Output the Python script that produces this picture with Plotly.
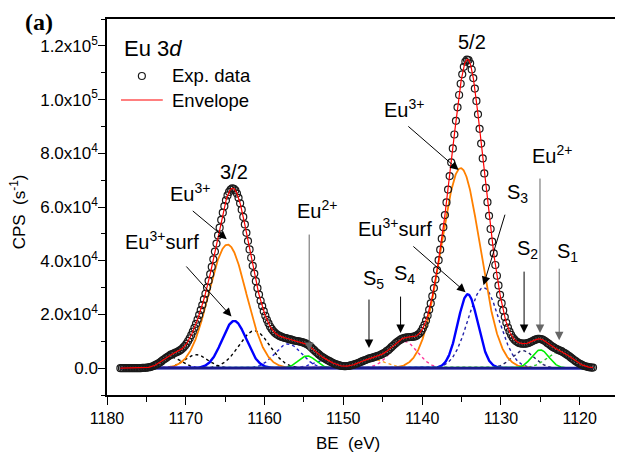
import numpy as np
import plotly.graph_objects as go

# ---------------- data ----------------
# experimental points: BE from 1178.3 eV down to 1118.3 eV in 0.2 eV steps
be_first, be_step, n_points = 1178.3, 0.2, 301
exp_cps = [
    0, 0, 0, 0, 0, 0, 0, 0, 0, 0,
    0, 0, 0, 0, 100, 100, 100, 200, 300, 400,
    600, 800, 1100, 1400, 1700, 2100, 2500, 3000, 3400, 3800,
    4200, 4600, 5000, 5200, 5500, 5800, 6000, 6300, 6700, 7100,
    7700, 8300, 9100, 10100, 11100, 12300, 13600, 15000, 16500, 18100,
    19800, 21600, 23500, 25600, 27700, 30000, 32500, 35000, 37700, 40500,
    43400, 46400, 49400, 52300, 55200, 57900, 60300, 62500, 64300, 65600,
    66500, 66900, 66800, 66200, 65000, 63400, 61400, 59000, 56300, 53500,
    50400, 47300, 44200, 41100, 38100, 35200, 32400, 29800, 27400, 25100,
    23100, 21200, 19500, 18000, 16700, 15500, 14600, 13800, 13200, 12700,
    12300, 12000, 11700, 11500, 11300, 11200, 11000, 10800, 10700, 10500,
    10300, 10200, 10100, 10000, 9900, 9700, 9600, 9300, 9100, 8700,
    8300, 7800, 7200, 6700, 6100, 5600, 5100, 4600, 4200, 3800,
    3500, 3100, 2800, 2500, 2200, 1900, 1600, 1400, 1200, 1000,
    900, 800, 700, 700, 800, 800, 1000, 1100, 1300, 1500,
    1700, 1900, 2200, 2400, 2700, 2900, 3100, 3400, 3600, 3700,
    3900, 4100, 4300, 4500, 4700, 4900, 5200, 5500, 5800, 6300,
    6700, 7200, 7800, 8300, 8900, 9400, 9900, 10300, 10700, 11000,
    11200, 11400, 11500, 11500, 11600, 11600, 11700, 11800, 12100, 12500,
    13000, 13800, 14900, 16100, 17700, 19600, 21700, 24100, 26800, 29800,
    33000, 36500, 40200, 44100, 48200, 52500, 57000, 61700, 66500, 71500,
    76600, 81800, 87000, 92100, 97100, 101700, 105900, 109400, 112200, 114100,
    114900, 114700, 113500, 111200, 108000, 104100, 99500, 94500, 89100, 83600,
    78100, 72500, 67100, 61800, 56700, 51800, 47100, 42700, 38400, 34400,
    30800, 27300, 24200, 21500, 19000, 16900, 15100, 13600, 12400, 11400,
    10700, 10100, 9700, 9400, 9200, 9100, 9100, 9100, 9200, 9400,
    9600, 9900, 10200, 10500, 10700, 10900, 10900, 10800, 10600, 10300,
    9900, 9400, 9000, 8500, 8100, 7700, 7400, 7100, 6800, 6500,
    6300, 5900, 5600, 5200, 4800, 4400, 3900, 3500, 3000, 2600,
    2200, 1800, 1500, 1200, 900, 700, 600, 400, 300, 200,
    200,
]

# fitted components: centre BE (eV), height (CPS), FWHM (eV)
comp_names  = ["sat32_a", "sat32_b", "Eu3_32", "Eu3s_32", "S3_32", "S2_32", "Eu2_32", "S1_32",
               "S5", "S4", "Eu3_52", "Eu3s_52", "S3", "S2", "Eu2_52", "S1"]
comp_center = [1171.8, 1168.7, 1164.7, 1163.85, 1161.3, 1157.0, 1154.6, 1152.6,
               1146.3, 1142.3, 1135.1, 1134.2, 1132.2, 1127.2, 1125.0, 1122.6]
comp_height = [4000, 5000, 46000, 17600, 13900, 9000, 4570, 2800,
               3300, 10000, 74500, 27500, 30000, 6500, 6800, 6000]
comp_fwhm   = [3.0, 3.5, 5.6, 3.6, 4.6, 4.0, 2.6, 3.2,
               4.0, 4.0, 5.8, 3.0, 4.6, 3.4, 2.6, 3.8]

y_ticks = [0, 20000, 40000, 60000, 80000, 100000, 120000]
y_ticktext = ["0.0", "2.0x10<sup>4</sup>", "4.0x10<sup>4</sup>", "6.0x10<sup>4</sup>",
              "8.0x10<sup>4</sup>", "1.0x10<sup>5</sup>", "1.2x10<sup>5</sup>"]

# ---------------- styles ----------------
NAVY = "#1a1a8c"
style = {
    "sat32_a": dict(color="black", dash="dot", width=1.4),
    "sat32_b": dict(color="black", dash="dot", width=1.4),
    "Eu3_32": dict(color="#ff8000", dash="solid", width=1.8),
    "Eu3s_32": dict(color="#0000ff", dash="solid", width=2.4),
    "S3_32": dict(color="black", dash="dot", width=1.4),
    "S2_32": dict(color="#2222cc", dash="dot", width=1.4),
    "Eu2_32": dict(color="#00ee00", dash="solid", width=1.6),
    "S1_32": dict(color="#2222cc", dash="dot", width=1.4),
    "S5": dict(color="#ffa020", dash="dot", width=1.4),
    "S4": dict(color="#ff3399", dash="dot", width=1.4),
    "Eu3_52": dict(color="#ff8000", dash="solid", width=1.8),
    "Eu3s_52": dict(color="#0000ff", dash="solid", width=2.4),
    "S3": dict(color="#2222aa", dash="dot", width=1.4),
    "S2": dict(color="#222266", dash="dot", width=1.4),
    "Eu2_52": dict(color="#00ee00", dash="solid", width=1.6),
    "S1": dict(color="#33cc33", dash="dot", width=1.4),
}

def gauss(x, c, h, w):
    return h * np.exp(-4 * np.log(2) * (x - c) ** 2 / w ** 2)

be_data = np.round(be_first - be_step * np.arange(n_points), 1)
be_last = be_data[-1]
be_fine = np.linspace(be_first, be_last, 1201)
comps = [gauss(be_fine, c, h, w) for c, h, w in zip(comp_center, comp_height, comp_fwhm)]
envelope = np.sum(comps, axis=0)

fig = go.Figure()
order = [n for n in comp_names if style[n]["dash"] == "dot"] + [n for n in comp_names if style[n]["dash"] != "dot"]
for n in order:
    i = comp_names.index(n)
    fig.add_trace(go.Scatter(x=be_fine, y=comps[i], mode="lines", line=style[n],
                             showlegend=False, hoverinfo="skip"))
fig.add_trace(go.Scatter(x=[be_first, be_last], y=[0, 0], mode="lines",
                         line=dict(color=NAVY, width=2.6), showlegend=False, hoverinfo="skip"))
fig.add_trace(go.Scatter(x=be_data, y=exp_cps, mode="markers", name="Exp. data",
                         marker=dict(symbol="circle-open", size=7, color="#1a1a1a", line=dict(width=1.2)),
                         showlegend=False))
fig.add_trace(go.Scatter(x=be_fine, y=envelope, mode="lines", name="Envelope",
                         line=dict(color="#ff0000", width=1.2), showlegend=False))

FONT = "Liberation Sans, Arial, sans-serif"
ann = []
def label(x, y, text, size=20, xanchor="left"):
    ann.append(dict(x=x, y=y, xref="x", yref="y", text=text, showarrow=False,
                    xanchor=xanchor, yanchor="middle", font=dict(family=FONT, size=size, color="black")))
def arrow(x, y, ax, ay, color="black"):
    ann.append(dict(x=x, y=y, ax=ax, ay=ay, xref="x", yref="y", axref="x", ayref="y", text="",
                    showarrow=True, arrowhead=2, arrowsize=1.7, arrowwidth=1, arrowcolor=color, standoff=0))

label(1163.94, 73000, "3/2", xanchor="center")
label(1133.72, 121400, "5/2", xanchor="center")
label(1172.3, 65400, "Eu<sup>3+</sup>")
arrow(1164.8, 48000, 1169.3, 59000)
label(1178.0, 47700, "Eu<sup>3+</sup>surf")
arrow(1164.2, 19200, 1170.1, 38400)
label(1156.1, 59200, "Eu<sup>2+</sup>")
arrow(1154.33, 6400, 1154.33, 50300, color="#666666")
label(1145.1, 96800, "Eu<sup>3+</sup>")
arrow(1135.36, 73750, 1141.94, 90500)
label(1148.4, 52500, "Eu<sup>3+</sup>surf")
arrow(1134.48, 28300, 1141.3, 45800)
label(1129.43, 65000, "S<sub>3</sub>")
arrow(1132.2, 30900, 1129.42, 57700)
label(1126.26, 79400, "Eu<sup>2+</sup>")
arrow(1125.03, 13100, 1125.03, 71150, color="#666666")
label(1128.15, 44000, "S<sub>2</sub>")
arrow(1127.05, 13100, 1127.05, 36500)
label(1123.1, 43000, "S<sub>1</sub>")
arrow(1122.59, 10400, 1122.59, 37600, color="#666666")
label(1147.8, 33000, "S<sub>5</sub>")
arrow(1146.74, 7500, 1146.74, 26100)
label(1143.85, 35000, "S<sub>4</sub>")
arrow(1142.73, 13100, 1142.73, 27200)

# the page adds an 8 px body margin; the figure is sized so the plot area lands at x 107-621, y 19-395
OFF = 8
W, H = 623 - OFF, 454 - OFF
L, R, T, B = 107 - OFF, 2, 19 - OFF, 454 - 395
pw, ph = W - L - R, H - T - B
def px(x):
    return (x - OFF - L) / pw
def py(y):
    return (H - B - (y - OFF)) / ph

ann.append(dict(x=px(122), y=py(49), xref="paper", yref="paper", text="Eu 3<i>d</i>", showarrow=False,
                xanchor="left", yanchor="middle", font=dict(family=FONT, size=22, color="black")))
ann.append(dict(x=px(170), y=py(76), xref="paper", yref="paper", text="Exp. data", showarrow=False,
                xanchor="left", yanchor="middle", font=dict(family=FONT, size=18.5, color="black")))
ann.append(dict(x=px(170), y=py(100), xref="paper", yref="paper", text="Envelope", showarrow=False,
                xanchor="left", yanchor="middle", font=dict(family=FONT, size=18.5, color="black")))
ann.append(dict(x=px(23), y=py(22), xref="paper", yref="paper", text="<b>(a)</b>", showarrow=False,
                xanchor="left", yanchor="middle", font=dict(family="Liberation Serif, serif", size=24, color="black")))
ann.append(dict(x=px(18), y=py(212), xref="paper", yref="paper", text="CPS  (s<sup>-1</sup>)", showarrow=False,
                xanchor="center", yanchor="middle", textangle=-90, font=dict(family=FONT, size=17, color="black")))
ann.append(dict(x=px(349), y=py(443), xref="paper", yref="paper", text="BE&nbsp; (eV)", showarrow=False,
                xanchor="center", yanchor="middle", font=dict(family=FONT, size=17, color="black")))

shapes = [
    dict(type="circle", xref="paper", yref="paper", x0=px(138.5), x1=px(145.5), y0=py(79.5), y1=py(72.5),
         line=dict(color="#1a1a1a", width=1.2)),
    dict(type="line", xref="paper", yref="paper", x0=px(121), x1=px(163), y0=py(100), y1=py(100),
         line=dict(color="#ff0000", width=1.2)),
]

fig.update_layout(
    width=W, height=H, margin=dict(l=L, r=R, t=T, b=B),
    paper_bgcolor="white", plot_bgcolor="white",
    annotations=ann, shapes=shapes, showlegend=False,
    xaxis=dict(range=[1180, 1115], tickmode="linear", tick0=1120, dtick=10, ticks="outside", ticklen=8,
               tickwidth=1.3, tickcolor="black", showline=True, linecolor="black", linewidth=1.5, mirror=True,
               showgrid=False, zeroline=False, ticklabelstandoff=0,
               tickfont=dict(family=FONT, size=16, color="black"),
               minor=dict(tickmode="linear", tick0=1115, dtick=5, ticks="outside", ticklen=5,
                          tickwidth=1.3, tickcolor="black", showgrid=False)),
    yaxis=dict(range=[-10000, 130000], tickmode="array", tickvals=y_ticks, ticktext=y_ticktext,
               ticks="outside", ticklen=7, tickwidth=1.3, tickcolor="black", showline=True,
               linecolor="black", linewidth=1.5, mirror=True, showgrid=False, zeroline=False,
               ticklabelstandoff=-3,
               tickfont=dict(family=FONT, size=17, color="black"),
               minor=dict(tickmode="linear", tick0=10000, dtick=20000, ticks="outside", ticklen=4,
                          tickwidth=1.3, tickcolor="black", showgrid=False)),
)
fig.write_html("out.html")
